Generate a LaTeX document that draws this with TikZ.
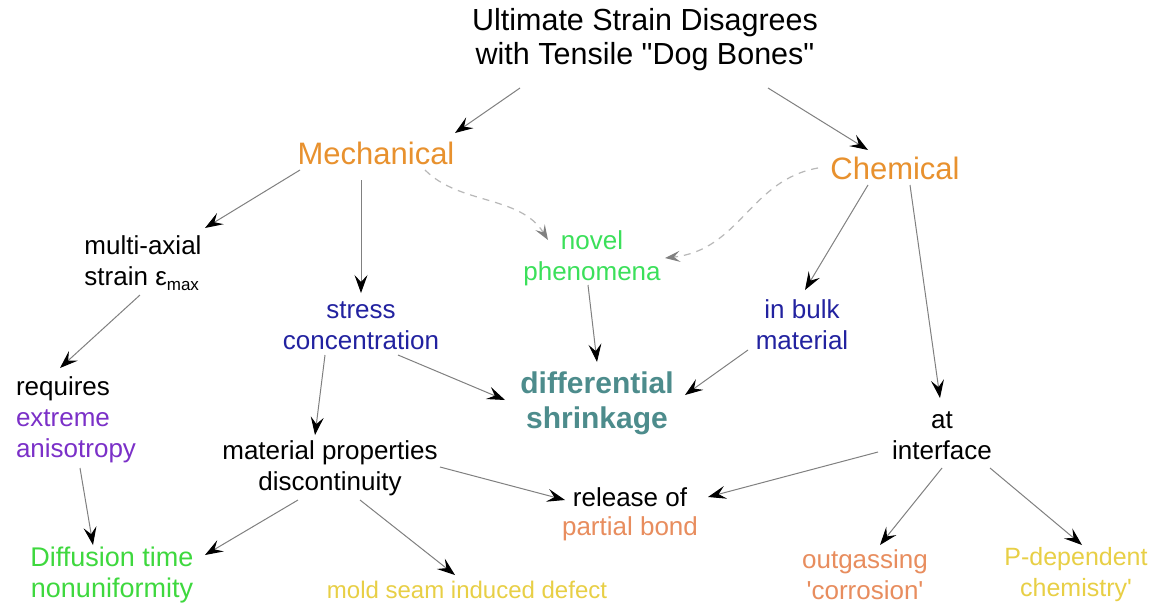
\documentclass[tikz,border=0pt]{standalone}
\usepackage{fontspec}
\setmainfont{Liberation Sans}
\usetikzlibrary{arrows.meta}
\definecolor{corange}{HTML}{E8912E}
\definecolor{cblue}{HTML}{2222A0}
\definecolor{cgreenA}{HTML}{3BE05A}
\definecolor{cteal}{HTML}{4D8C8C}
\definecolor{cpurple}{HTML}{7B30C8}
\definecolor{cgreenB}{HTML}{3ED83E}
\definecolor{cyellow}{HTML}{E8CF45}
\definecolor{csalmon}{HTML}{E88D5E}
\definecolor{cline}{HTML}{808080}
\definecolor{cdash}{HTML}{B8B8B8}
\begin{document}
\begin{tikzpicture}[x=1pt,y=-1pt,
  lbl/.style={inner sep=0pt,align=center,font=\fontsize{26}{31}\selectfont},
  big/.style={inner sep=0pt,align=center,font=\fontsize{31}{36}\selectfont,text=corange},
  ttl/.style={inner sep=0pt,align=center,font=\fontsize{30.5}{34}\selectfont},
  arr/.style={draw=cline,line width=1pt,-{Stealth[length=18pt,width=13pt,inset=7pt,color=black]}},
  darr/.style={draw=cdash,line width=1.2pt,dash pattern=on 7pt off 6pt,-{Stealth[length=15pt,width=11pt,inset=6pt,color=gray]}}]
\useasboundingbox (0,0) rectangle (1164,608);
\fill[white] (0,0) rectangle (1164,608);
% nodes
\node[ttl] (title) at (645,40) {Ultimate Strain Disagrees\\with Tensile \textquotedbl Dog Bones\textquotedbl};
\node[big] (mech) at (376,153) {Mechanical};
\node[big] (chem) at (895,168) {Chemical};
\node[lbl,align=left] (multi) at (143,263) {multi-axial\\strain ε{\fontsize{17}{17}\selectfont\raisebox{-5pt}{max}}};
\node[lbl,text=cblue] (stress) at (361,326) {stress\\concentration};
\node[lbl,text=cgreenA] (novel) at (592,258) {novel\\phenomena};
\node[lbl,text=cblue] (bulk) at (802,325) {in bulk\\material};
\node[inner sep=0pt,align=center,font=\fontsize{30}{35}\selectfont\bfseries,text=cteal] (diff) at (597,403) {differential\\shrinkage};
\node[lbl,align=left] (req) at (76,420) {requires\\\textcolor{cpurple}{extreme}\\\textcolor{cpurple}{anisotropy}};
\node[lbl] (prop) at (330,468) {material properties\\discontinuity};
\node[lbl] (intf) at (942,436) {at\\interface};
\node[lbl,font=\fontsize{26}{29}\selectfont] (rel) at (630,514) {release of\\\textcolor{csalmon}{partial bond}};
\node[lbl,text=cgreenB,font=\fontsize{27}{31}\selectfont] (diffu) at (112,575) {Diffusion time\\nonuniformity};
\node[lbl,text=cyellow,font=\fontsize{24}{28}\selectfont] (mold) at (467,590) {mold seam induced defect};
\node[lbl,text=csalmon] (outg) at (865,575) {outgassing\\\textquotesingle corrosion\textquotesingle};
\node[lbl,text=cyellow,font=\fontsize{25}{31}\selectfont] (pdep) at (1076,575) {P-dependent\\chemistry\textquotesingle};
% connectors
\draw[arr] ([shift={(-125,48)}]title.center) -- ([shift={(79,-20)}]mech.center);
\draw[arr] ([shift={(123,48)}]title.center) -- ([shift={(-27,-18)}]chem.center);
\draw[arr] ([shift={(-76,17)}]mech.center) -- ([shift={(62,-35)}]multi.center);
\draw[arr] ([shift={(-15,27)}]mech.center) -- ([shift={(0,-33)}]stress.center);
\draw[darr] ([shift={(49,17)}]mech.center) .. controls (460,205) and (520,195) .. ([shift={(-44,-18)}]novel.center);
\draw[darr] ([shift={(-77,0)}]chem.center) .. controls (750,180) and (740,250) .. ([shift={(73,0)}]novel.center);
\draw[arr] ([shift={(-27,17)}]chem.center) -- ([shift={(3,-35)}]bulk.center);
\draw[arr] ([shift={(15,17)}]chem.center) -- ([shift={(-2,-38)}]intf.center);
\draw[arr] ([shift={(-3,32)}]multi.center) -- ([shift={(-16,-52)}]req.center);
\draw[arr] ([shift={(37,29)}]stress.center) -- ([shift={(-92,-3)}]diff.center);
\draw[arr] ([shift={(-36,29)}]stress.center) -- ([shift={(-15,-33)}]prop.center);
\draw[arr] ([shift={(-4,27)}]novel.center) -- ([shift={(0,-41)}]diff.center);
\draw[arr] ([shift={(-54,25)}]bulk.center) -- ([shift={(88,-8)}]diff.center);
\draw[arr] ([shift={(4,48)}]req.center) -- ([shift={(-19,-30)}]diffu.center);
\draw[arr] ([shift={(-32,32)}]prop.center) -- ([shift={(93,-20)}]diffu.center);
\draw[arr] ([shift={(30,32)}]prop.center) -- ([shift={(-12,-15)}]mold.center);
\draw[arr] ([shift={(110,-1)}]prop.center) -- ([shift={(-65,-14)}]rel.center);
\draw[arr] ([shift={(-64,16)}]intf.center) -- ([shift={(78,-17)}]rel.center);
\draw[arr] ([shift={(0,32)}]intf.center) -- ([shift={(15,-30)}]outg.center);
\draw[arr] ([shift={(48,32)}]intf.center) -- ([shift={(6,-30)}]pdep.center);
\end{tikzpicture}
\end{document}
